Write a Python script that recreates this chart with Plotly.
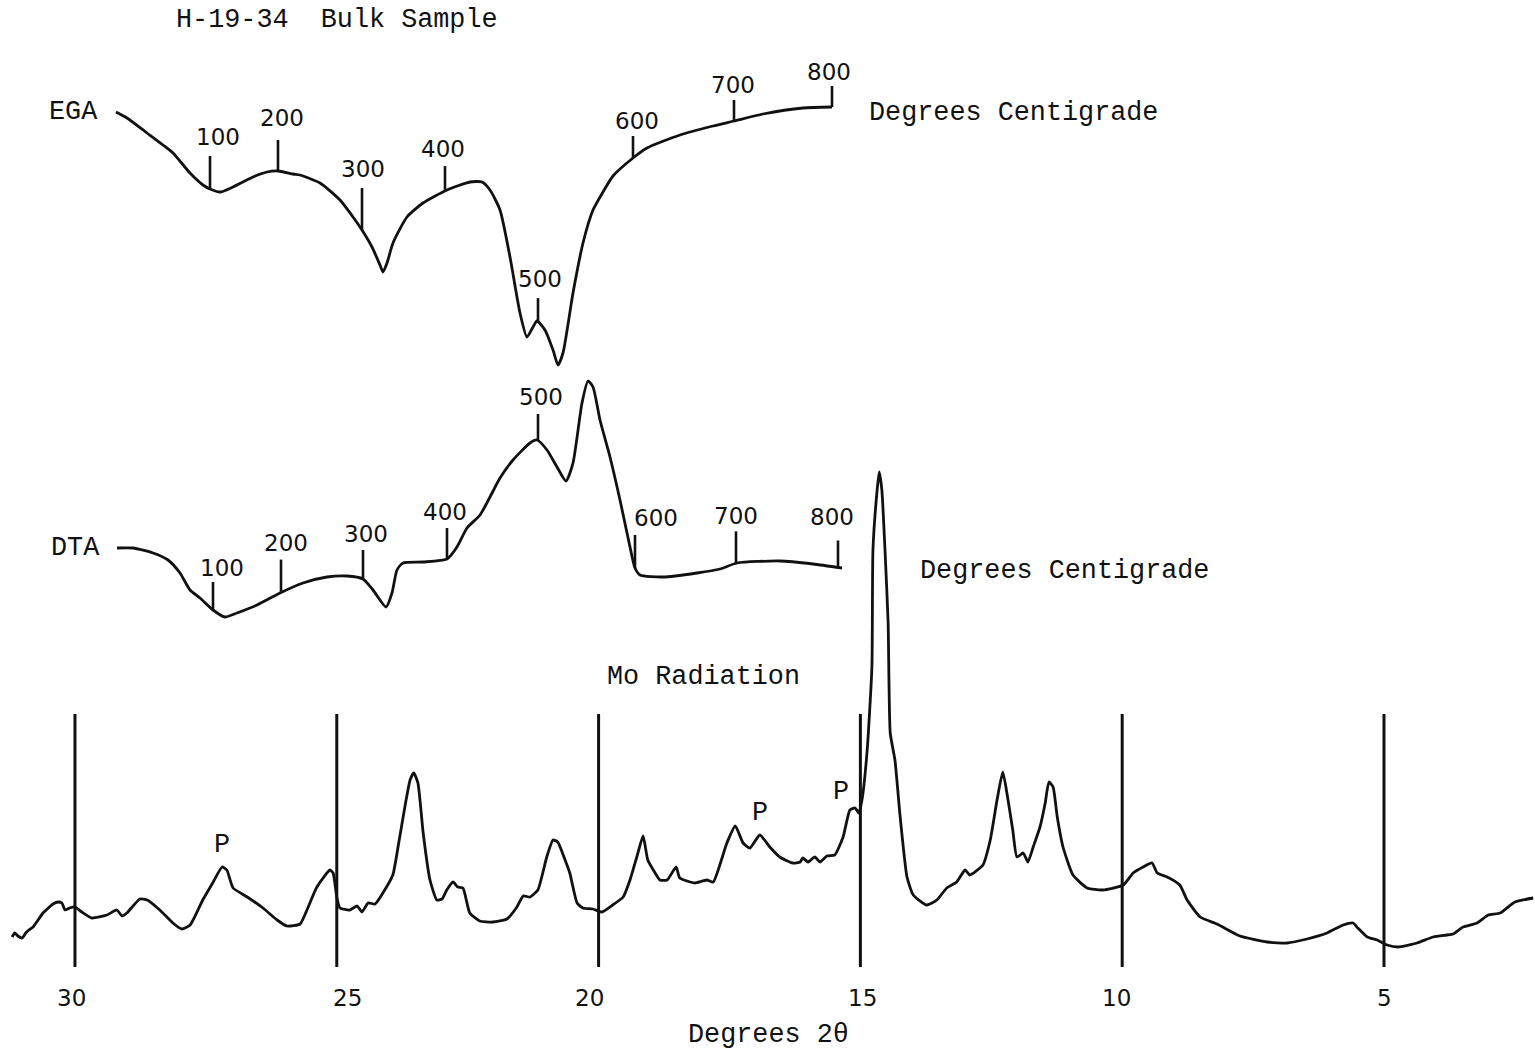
import numpy as np
import plotly.graph_objects as go

# ---------------- Evolved gas analysis (EGA) ----------------
# recorder time (min) and detector signal (arbitrary units)
ega_time = [0.1, 1.2, 3.2, 4.8, 5.8, 7.5, 8.8, 9.5, 10.5, 11.8, 13.8, 15.2, 16.3, 17.8, 18.5,
            20.5, 22.5, 23.8, 24.7, 25.7, 26.5, 26.8, 27.2, 27.8, 29.2, 30.8, 33.2, 35.5, 36.7,
            37.5, 38.5, 39.5, 40.5, 41.2, 41.8, 42.2, 43.0, 43.8, 44.3, 44.8, 45.8, 46.8, 47.8,
            48.8, 49.8, 51.8, 53.2, 56.5, 59.8, 61.9, 64.8, 68.8, 71.7]
ega_signal = [288, 282, 267, 255, 247, 227, 215, 211, 208, 213, 223, 228, 229, 226, 225,
              217, 200, 183, 170, 153, 135, 128, 137, 157, 183, 197, 210, 218, 218,
              210, 190, 143, 87, 63, 73, 79, 70, 50, 35, 47, 107, 157, 190,
              208, 224, 242, 252, 265, 274, 279, 286, 292, 293]
ega_tick_temp = [100, 200, 300, 400, 500, 600, 700, 800]
ega_tick_time = [9.5, 16.3, 24.7, 33.0, 42.3, 51.8, 61.9, 71.7]

# ---------------- Differential thermal analysis (DTA) ----------------
dta_time = [0.2, 1.8, 3.8, 5.3, 6.5, 7.5, 8.5, 9.8, 11.0, 12.2, 14.2, 16.5, 18.8, 21.2, 23.2,
            24.8, 25.8, 27.1, 27.7, 28.2, 28.8, 30.8, 33.2, 34.2, 35.2, 36.5, 37.5, 38.5, 39.8,
            41.5, 42.2, 43.2, 44.2, 45.1, 45.8, 46.7, 47.3, 47.8, 48.5, 49.5, 50.5, 51.5, 52.0,
            52.5, 54.8, 58.2, 60.5, 62.2, 66.5, 69.8, 72.7]
dta_signal = [152, 152, 147, 140, 127, 110, 102, 90, 83, 87, 95, 107, 117, 123, 124,
              121, 110, 93, 107, 130, 137, 138, 141, 153, 172, 185, 203, 222, 240,
              257, 260, 250, 233, 219, 237, 297, 319, 313, 280, 243, 200, 153, 132,
              125, 123, 127, 131, 137, 139, 136, 132]
dta_tick_temp = [100, 200, 300, 400, 500, 600, 700, 800]
dta_tick_time = [9.8, 16.6, 24.8, 33.2, 42.3, 52.0, 62.1, 72.3]

# ---------------- X-ray diffraction, Mo radiation ----------------
xrd_two_theta = [
    31.20, 31.15, 31.09, 31.01, 30.94, 30.88, 30.80, 30.61, 30.42, 30.32,
    30.25, 30.19, 30.10, 30.00, 29.87, 29.68, 29.39, 29.20, 29.10, 29.01,
    28.76, 28.62, 28.38, 28.13, 27.96, 27.80, 27.56, 27.36, 27.19, 27.10,
    26.98, 26.71, 26.41, 26.14, 25.95, 25.70, 25.57, 25.38, 25.13, 25.07,
    25.00, 24.94, 24.75, 24.61, 24.52, 24.40, 24.27, 24.12, 23.93, 23.83,
    23.70, 23.60, 23.53, 23.45, 23.35, 23.22, 23.09, 22.99, 22.90, 22.78,
    22.69, 22.59, 22.46, 22.27, 22.02, 21.75, 21.56, 21.44, 21.31, 21.16,
    20.99, 20.87, 20.78, 20.64, 20.55, 20.41, 20.30, 20.11, 19.94, 19.73,
    19.53, 19.40, 19.27, 19.15, 19.06, 18.92, 18.83, 18.69, 18.52, 18.45,
    18.25, 18.16, 17.93, 17.81, 17.55, 17.39, 17.24, 17.11, 16.92, 16.73,
    16.54, 16.29, 16.15, 16.10, 16.00, 15.87, 15.77, 15.64, 15.49, 15.33,
    15.20, 15.10, 15.03, 14.97, 14.87, 14.78, 14.76, 14.68, 14.64, 14.59,
    14.53, 14.47, 14.43, 14.34, 14.24, 14.11, 13.99, 13.73, 13.54, 13.35,
    13.16, 13.00, 12.91, 12.66, 12.52, 12.39, 12.28, 12.18, 12.09, 12.01,
    11.89, 11.80, 11.70, 11.57, 11.47, 11.40, 11.32, 11.24, 11.13, 10.94,
    10.67, 10.37, 9.98, 9.79, 9.60, 9.43, 9.33, 9.14, 8.90, 8.76,
    8.51, 8.19, 7.75, 7.23, 6.85, 6.47, 6.09, 5.78, 5.59, 5.50,
    5.32, 5.13, 4.94, 4.73, 4.37, 4.06, 3.80, 3.68, 3.49, 3.22,
    3.01, 2.78, 2.50, 2.15]
xrd_intensity = [
    63, 67, 64, 62, 67, 70, 73, 87, 96, 98,
    97, 90, 92, 93, 88, 82, 85, 90, 84, 87,
    101, 100, 90, 77, 71, 75, 100, 118, 133, 130,
    112, 103, 92, 80, 74, 76, 90, 113, 130, 127,
    103, 92, 90, 94, 88, 97, 96, 107, 125, 153,
    193, 220, 227, 217, 167, 120, 100, 101, 110, 118,
    113, 112, 87, 79, 78, 81, 93, 104, 103, 110,
    143, 160, 158, 140, 127, 97, 92, 91, 88, 95,
    103, 120, 143, 164, 140, 127, 120, 120, 133, 122,
    118, 117, 120, 118, 157, 174, 157, 152, 165, 153,
    143, 137, 138, 142, 138, 143, 138, 144, 145, 163,
    190, 192, 187, 200, 250, 333, 450, 510, 528, 510,
    450, 377, 267, 240, 183, 123, 105, 95, 100, 112,
    118, 130, 125, 135, 160, 200, 228, 200, 170, 143,
    147, 138, 153, 173, 197, 218, 213, 183, 153, 125,
    112, 110, 115, 127, 133, 137, 127, 123, 115, 100,
    83, 76, 64, 58, 57, 61, 67, 75, 77, 72,
    63, 60, 55, 53, 57, 63, 65, 66, 73, 77,
    85, 87, 98, 102]
xrd_grid_two_theta = [30, 25, 20, 15, 10, 5]
p_peak_two_theta = [27.19, 16.92, 15.37]
p_peak_intensity = [155, 187, 208]

# ---------------- styling ----------------
INK = "#111111"
TYPE_FONT = "Liberation Mono"
LETTER_FONT = "DejaVu Sans"
TYPE_SIZE = 26.8
ega_tick_len = [33, 31, 42, 25, 24, 22, 21, 21]
ega_label_dx = [8, 4, 1, -2, 2, 4, -1, -3]
ega_label_dy = [19, 22, 19, 17, 19, 15, 15, 14]
dta_tick_len = [28, 33, 29, 31, 27, 33, 32, 27]
dta_label_dx = [9, 5, 3, -2, 3, 21, 0, -6]
dta_label_dy = [14, 17, 16, 16, 17, 17, 15, 23]
grid_label_dx = [-3, 11, -9, 2, -6, 1]

fig = go.Figure()

curve_line = dict(color=INK, width=2.8, shape="spline", smoothing=0.6)


def temperature_ticks(times, curve_t, curve_v, lengths):
    xs, ys, tops = [], [], []
    for t, ln in zip(times, lengths):
        base = float(np.interp(t, curve_t, curve_v))
        xs += [t, t, None]
        ys += [base, base + ln, None]
        tops.append(base + ln)
    return xs, ys, tops


# EGA curve and its temperature marks
fig.add_trace(go.Scatter(x=ega_time, y=ega_signal, mode="lines", line=curve_line,
                         xaxis="x2", yaxis="y2", hoverinfo="skip"))
tx, ty, ega_tops = temperature_ticks(ega_tick_time, ega_time, ega_signal, ega_tick_len)
fig.add_trace(go.Scatter(x=tx, y=ty, mode="lines", line=dict(color=INK, width=2.6),
                         xaxis="x2", yaxis="y2", hoverinfo="skip"))

# DTA curve and its temperature marks
fig.add_trace(go.Scatter(x=dta_time, y=dta_signal, mode="lines", line=curve_line,
                         xaxis="x2", yaxis="y3", hoverinfo="skip"))
tx, ty, dta_tops = temperature_ticks(dta_tick_time, dta_time, dta_signal, dta_tick_len)
fig.add_trace(go.Scatter(x=tx, y=ty, mode="lines", line=dict(color=INK, width=2.6),
                         xaxis="x2", yaxis="y3", hoverinfo="skip"))

# XRD reference lines every 5 degrees 2-theta
gx, gy = [], []
for g in xrd_grid_two_theta:
    gx += [g, g, None]
    gy += [33, 286, None]
fig.add_trace(go.Scatter(x=gx, y=gy, mode="lines", line=dict(color=INK, width=3),
                         xaxis="x", yaxis="y", hoverinfo="skip"))

# XRD pattern
fig.add_trace(go.Scatter(x=xrd_two_theta, y=xrd_intensity, mode="lines",
                         line=dict(color=INK, width=2.8, shape="spline", smoothing=0.5),
                         xaxis="x", yaxis="y", hoverinfo="skip"))

ann = []
for temp, t, top, dx, dy in zip(ega_tick_temp, ega_tick_time, ega_tops, ega_label_dx, ega_label_dy):
    ann.append(dict(x=t, y=top, xref="x2", yref="y2", text=str(temp), showarrow=False,
                    xshift=dx, yshift=dy, yanchor="middle",
                    font=dict(family=LETTER_FONT, size=23, color=INK)))
for temp, t, top, dx, dy in zip(dta_tick_temp, dta_tick_time, dta_tops, dta_label_dx, dta_label_dy):
    ann.append(dict(x=t, y=top, xref="x2", yref="y3", text=str(temp), showarrow=False,
                    xshift=dx, yshift=dy, yanchor="middle",
                    font=dict(family=LETTER_FONT, size=23, color=INK)))
for g, dx in zip(xrd_grid_two_theta, grid_label_dx):
    ann.append(dict(x=g, y=2, xref="x", yref="y", text=str(g), showarrow=False,
                    xshift=dx, yanchor="middle",
                    font=dict(family=LETTER_FONT, size=23, color=INK)))
for px_, py_ in zip(p_peak_two_theta, p_peak_intensity):
    ann.append(dict(x=px_, y=py_, xref="x", yref="y", text="P", showarrow=False,
                    yanchor="middle", font=dict(family=TYPE_FONT, size=TYPE_SIZE, color=INK)))


def paper_text(text, xc, yc):
    ann.append(dict(x=xc / 1535, y=1 - yc / 1056, xref="paper", yref="paper", text=text,
                    showarrow=False, xanchor="center", yanchor="middle",
                    font=dict(family=TYPE_FONT, size=TYPE_SIZE, color=INK)))


paper_text("H-19-34\u00a0 Bulk Sample", 337, 20)
paper_text("EGA", 73, 112)
paper_text("DTA", 75, 548)
paper_text("Degrees Centigrade", 1013, 113)
paper_text("Degrees Centigrade", 1064, 571)
paper_text("Mo Radiation", 703, 677)
paper_text("Degrees 2\u03b8", 768, 1035)

hidden = dict(visible=False, showgrid=False, zeroline=False, fixedrange=True)
fig.update_layout(
    width=1535, height=1056,
    margin=dict(l=0, r=0, t=0, b=0),
    paper_bgcolor="white", plot_bgcolor="white",
    showlegend=False,
    xaxis=dict(range=[31.432, 2.116], domain=[0, 1], anchor="y", **hidden),
    yaxis=dict(range=[-56, 1000], domain=[0, 1], anchor="x", **hidden),
    xaxis2=dict(range=[-11.5, 142], domain=[0, 1], anchor="y2", overlaying="x", **hidden),
    yaxis2=dict(range=[-656, 400], domain=[0, 1], anchor="x2", overlaying="y", **hidden),
    yaxis3=dict(range=[-356, 700], domain=[0, 1], anchor="x2", overlaying="y", **hidden),
    annotations=ann,
)

fig.write_html("out.html")
